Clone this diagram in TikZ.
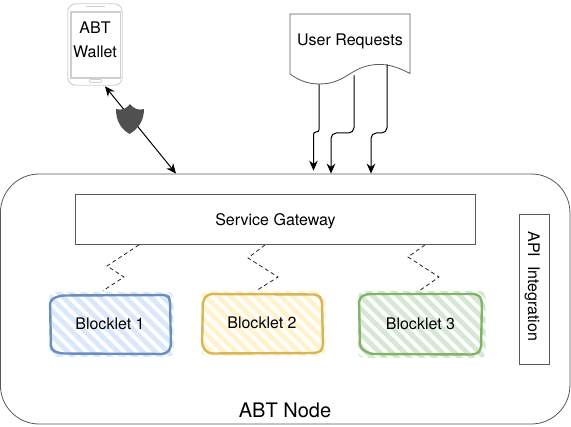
\documentclass[tikz,border=0pt]{standalone}
\usepackage{fontspec}
\setmainfont{TeX Gyre Heros}
\usetikzlibrary{arrows.meta}
\def\px{0.75pt}
\definecolor{edgegray}{HTML}{595959}
\definecolor{phonegray}{HTML}{CFCFCF}
\definecolor{shieldgray}{HTML}{505050}
\definecolor{blueS}{HTML}{6C8EBF}\definecolor{blueF}{HTML}{DAE8FC}
\definecolor{yelS}{HTML}{D6B656}\definecolor{yelF}{HTML}{FFF2CC}
\definecolor{greS}{HTML}{82B366}\definecolor{greF}{HTML}{D5E8D4}
\tikzset{
  x=0.75pt,y=-0.75pt,
  lbl/.style={font=\fontsize{12pt}{14pt}\selectfont,text=black,inner sep=0pt},
  plainbox/.style={draw=edgegray,line width=0.6pt,fill=white,inner sep=0pt,text depth=0pt,font=\fontsize{12pt}{14pt}\selectfont},
  blockbox/.style={minimum width=120*\px,minimum height=59*\px,inner sep=0pt,font=\fontsize{12pt}{14pt}\selectfont},
  zig/.style={line width=0.6pt,dash pattern=on 3pt off 2.2pt,black!85},
  flow/.style={line width=0.75pt,black,-{Stealth[length=7.5pt,width=6.5pt]},rounded corners=4pt},
  both/.style={line width=0.75pt,black,{Stealth[length=7.5pt,width=6.5pt]}-{Stealth[length=7.5pt,width=6.5pt]}},
  sketch/.style={line width=1.8pt,line join=round,line cap=round},
  hatch/.style={line width=3.5pt},
}
\newcommand{\hatchfill}[6]{% x1 y1 x2 y2 colour phase
  \begin{scope}
    \clip[rounded corners=4pt] (#1-1,#2-3) rectangle (#3+3.5,#4+3);
    \foreach \k in {-3,...,16}{
      \draw[hatch,#5] (#1+\k*12.5+#6-70,#2-6) -- ++(76,76);
    }
  \end{scope}
}
\begin{document}
\begin{tikzpicture}
\useasboundingbox (0,0) rectangle (571,427);
% container
\node[draw=edgegray,line width=0.6pt,rounded corners=29pt,minimum width=569.5*\px,minimum height=250*\px,inner sep=0pt] (main) at (285.2,299) {};
\node[inner sep=0pt,font=\fontsize{15pt}{18pt}\selectfont] (mainlabel) at (285,410) {ABT Node};
% gateway
\node[plainbox,minimum width=400*\px,minimum height=50*\px] (gw) at (275.5,219.5) {Service Gateway};
% API
\node[plainbox,minimum width=150*\px,minimum height=30*\px,rotate=-90] (api) at (534,289) {API\ \ Integration\hspace*{4pt}};
% blocklets
\hatchfill{50}{295}{170}{354}{blueF}{0}
\hatchfill{202}{294}{322}{353}{yelF}{3}
\hatchfill{359}{294}{482}{355}{greF}{1}
\draw[sketch,blueS,rounded corners=3pt] (50,300) -- (60,295.5) -- (168,295) -- (170,300) -- (171,348) -- (166,354) -- (60,353.5) -- (51,350) -- cycle;
\draw[sketch,yelS,rounded corners=3pt] (203,300) -- (208,294) -- (318,294.5) -- (322,300) -- (323,349) -- (318,353) -- (208,353.5) -- (202,346) -- cycle;
\draw[sketch,greS,rounded corners=3pt] (359,298) -- (366,294) -- (478,294) -- (482,300) -- (481,350) -- (476,354.5) -- (370,354) -- (360,348) -- cycle;
\node[blockbox] (b1) at (110,323.5) {Blocklet 1};
\node[blockbox] (b2) at (262,323) {Blocklet 2};
\node[blockbox] (b3) at (420.5,323.5) {Blocklet 3};
% zigzags
\draw[zig] ([xshift=-136.5*\px]gw.south) -- (107,266) -- (124,277) -- ([xshift=-7*\px,yshift=3*\px]b1.north);
\draw[zig] ([xshift=-10.5*\px]gw.south) -- (248,258) -- (278,277) -- ([xshift=-5*\px,yshift=3*\px]b2.north);
\draw[zig] ([xshift=149.5*\px]gw.south) -- (408,257) -- (439,277) -- ([xshift=-2.5*\px,yshift=2*\px]b3.north);
% wallet
\node[inner sep=0pt,minimum width=54*\px,minimum height=81*\px] (wallet) at (95,44.5) {};
\draw[phonegray,line width=0.7pt,rounded corners=6pt] (wallet.south west) rectangle (wallet.north east);
\draw[phonegray,line width=0.9pt] (71,12) rectangle (120.5,78);
\draw[phonegray,line width=0.5pt,rounded corners=1pt] (89,79.5) rectangle (102,82.5);
\draw[phonegray,line width=1pt] (86,6.3) -- (105,6.3);
\node[lbl] (wt1) at (95,28) {ABT};
\node[lbl] (wt2) at (95,52) {Wallet};
% requests
\node[inner sep=0pt,minimum width=120*\px,minimum height=70*\px] (req) at (350,49) {};
\draw[edgegray,line width=0.6pt,fill=white] (290,14) -- (410,14) -- (410,73.5) .. controls (396,66) and (384,63) .. (372,65) .. controls (350,68) and (345,84) .. (319,84) .. controls (306,84) and (297,79) .. (290,74) -- cycle;
\node[lbl] (reqt) at (350,41.5) {User Requests};
% flow arrows
\draw[flow,rounded corners=1.8pt] ([xshift=-31*\px]req.south) -- (319,132) -- (313.5,132) -- ([xshift=28.3*\px,yshift=3*\px]main.north);
\draw[flow] ([xshift=4*\px,yshift=9*\px]req.south) -- (354,133) -- (331,133) -- ([xshift=45.8*\px]main.north);
\draw[flow] ([xshift=37*\px,yshift=20*\px]req.south) -- (387,133) -- (371,133) -- ([xshift=85.8*\px]main.north);
% wallet link
\draw[both] ([xshift=10*\px,yshift=-1*\px]wallet.south) -- ([xshift=-109.2*\px]main.north);
% shield
\node[inner sep=0pt,minimum width=28*\px,minimum height=30*\px] (shield) at (130,119) {};
\fill[shieldgray] (116,109) .. controls (122,111) and (127,108) .. (130,104) .. controls (133,108) and (138,111) .. (144,109) .. controls (144,121) and (138,129) .. (129.5,134) .. controls (121,129) and (116,121) .. (116,109) -- cycle;
\end{tikzpicture}
\end{document}
